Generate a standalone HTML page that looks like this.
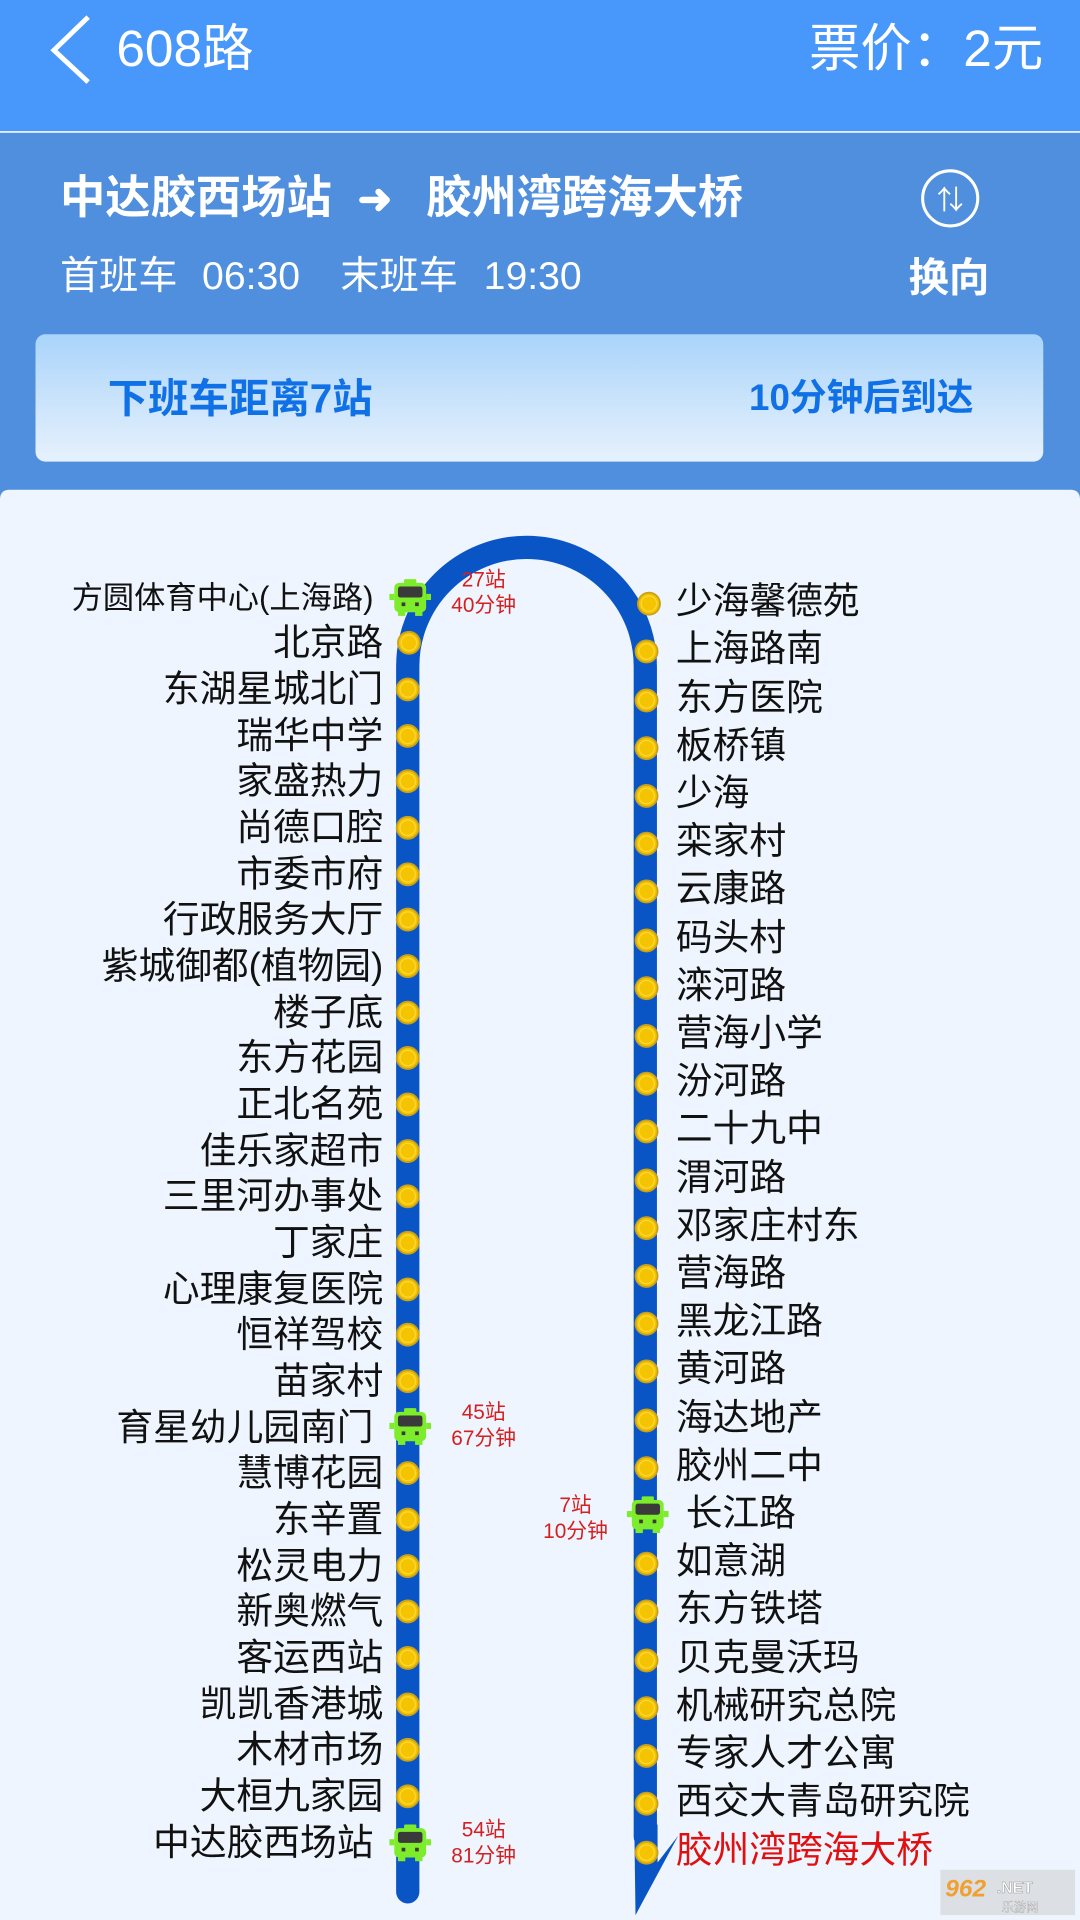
<!DOCTYPE html>
<html><head><meta charset="utf-8">
<style>
html,body{margin:0;padding:0;width:1080px;height:1920px;overflow:hidden;background:#eef5fe}
svg{display:block}
text{font-family:"Liberation Sans","Noto Sans CJK SC",sans-serif}
</style></head><body>
<svg width="1080" height="1920" viewBox="0 0 882 1568" xmlns="http://www.w3.org/2000/svg">
<defs>
<linearGradient id="card" x1="0" y1="0" x2="0" y2="1">
<stop offset="0" stop-color="#a9d4fb"/><stop offset="0.5" stop-color="#c9e3fb"/><stop offset="1" stop-color="#e6f1fd"/>
</linearGradient>
<g id="bus">
<rect x="-13" y="-12" width="26" height="24" rx="4" fill="#7ded2b"/>
<rect x="-5" y="-15" width="10" height="4" rx="1" fill="#7ded2b"/>
<rect x="-17" y="-3" width="4" height="5" fill="#7ded2b"/><rect x="13" y="-3" width="4" height="5" fill="#7ded2b"/>
<rect x="-10" y="11" width="6" height="4" fill="#7ded2b"/><rect x="4" y="11" width="6" height="4" fill="#7ded2b"/>
<rect x="-10" y="-9" width="20" height="9" rx="2" fill="#3a3a3a"/>
<rect x="-7" y="4" width="3" height="3" fill="#3a3a3a"/><rect x="4" y="4" width="3" height="3" fill="#3a3a3a"/>
</g>
<g id="dot"><circle r="9" fill="#f5c400" stroke="#c9a21a" stroke-width="1.5"/><circle r="6.3" fill="none" stroke="#ffd83a" stroke-width="1"/></g>
</defs>
<rect x="0" y="0" width="882" height="1568" fill="#4f8fdd"/>
<rect x="0" y="0" width="882" height="107" fill="#4897fb"/>
<rect x="0" y="107" width="882" height="1.5" fill="#e6f0ff"/>
<path d="M0 408 Q0 400 8 400 L874 400 Q882 400 882 408 L882 1568 L0 1568Z" fill="#eef5fe"/>
<!-- header -->
<polyline points="72,14 44,41 72,67" fill="none" stroke="#fff" stroke-width="4"/>
<text x="95" y="54" font-size="42" fill="#fff">608路</text>
<text x="852" y="54" font-size="42" fill="#fff" text-anchor="end">票价：2元</text>
<text x="49" y="174" font-size="37" font-weight="bold" fill="#fff">中达胶西场站</text>
<text x="292" y="174" font-size="34" font-weight="bold" fill="#fff">➜</text>
<text x="348" y="174" font-size="37" font-weight="bold" fill="#fff">胶州湾跨海大桥</text>
<circle cx="776" cy="162" r="22.5" fill="none" stroke="#fff" stroke-width="2.5"/>
<text x="776" y="171" font-size="22" fill="#fff" text-anchor="middle">⇅</text>
<text x="742" y="238" font-size="33" font-weight="bold" fill="#fff">换向</text>
<g font-size="32" fill="#fff">
<text x="49" y="236">首班车</text><text x="165" y="236">06:30</text>
<text x="278" y="236">末班车</text><text x="395" y="236">19:30</text>
</g>
<rect x="29" y="273" width="823" height="104" rx="8" fill="url(#card)"/>
<text x="88" y="337" font-size="33" font-weight="bold" fill="#1070e6">下班车距离7站</text>
<text x="795" y="335" font-size="30" font-weight="bold" fill="#1070e6" text-anchor="end">10分钟后到达</text>
<!-- route line -->
<path d="M333 1545 L333 544 A97 97 0 0 1 527 544 L527 1500" fill="none" stroke="#0a55c5" stroke-width="19" stroke-linecap="round"/>
<polygon points="518,1490 537,1490 537,1521 554,1499 519,1564" fill="#0a55c5"/>
<!-- left stations -->
<g font-size="30" fill="#111" text-anchor="end">
<text x="305" y="497" font-size="25.5">方圆体育中心(上海路)</text>
<text x="313" y="535">北京路</text>
<text x="313" y="573">东湖星城北门</text>
<text x="313" y="611">瑞华中学</text>
<text x="313" y="648">家盛热力</text>
<text x="313" y="686">尚德口腔</text>
<text x="313" y="724">市委市府</text>
<text x="313" y="761">行政服务大厅</text>
<text x="313" y="799">紫城御都(植物园)</text>
<text x="313" y="837">楼子底</text>
<text x="313" y="874">东方花园</text>
<text x="313" y="912">正北名苑</text>
<text x="313" y="950">佳乐家超市</text>
<text x="313" y="987">三里河办事处</text>
<text x="313" y="1025">丁家庄</text>
<text x="313" y="1063">心理康复医院</text>
<text x="313" y="1100">恒祥驾校</text>
<text x="313" y="1138">苗家村</text>
<text x="305" y="1176">育星幼儿园南门</text>
<text x="313" y="1213">慧博花园</text>
<text x="313" y="1251">东辛置</text>
<text x="313" y="1289">松灵电力</text>
<text x="313" y="1326">新奥燃气</text>
<text x="313" y="1364">客运西站</text>
<text x="313" y="1402">凯凯香港城</text>
<text x="313" y="1439">木材市场</text>
<text x="313" y="1477">大桓九家园</text>
<text x="305" y="1515">中达胶西场站</text>
</g>
<g>
<use href="#dot" x="334" y="525"/><use href="#dot" x="333" y="563"/><use href="#dot" x="333" y="601"/><use href="#dot" x="333" y="638"/><use href="#dot" x="333" y="676"/><use href="#dot" x="333" y="714"/><use href="#dot" x="333" y="751"/><use href="#dot" x="333" y="789"/><use href="#dot" x="333" y="827"/><use href="#dot" x="333" y="864"/><use href="#dot" x="333" y="902"/><use href="#dot" x="333" y="940"/><use href="#dot" x="333" y="977"/><use href="#dot" x="333" y="1015"/><use href="#dot" x="333" y="1053"/><use href="#dot" x="333" y="1090"/><use href="#dot" x="333" y="1128"/><use href="#dot" x="333" y="1203"/><use href="#dot" x="333" y="1241"/><use href="#dot" x="333" y="1279"/><use href="#dot" x="333" y="1316"/><use href="#dot" x="333" y="1354"/><use href="#dot" x="333" y="1392"/><use href="#dot" x="333" y="1429"/><use href="#dot" x="333" y="1467"/>
</g>
<use href="#bus" x="335" y="488"/><use href="#bus" x="335" y="1165"/><use href="#bus" x="335" y="1505"/><use href="#bus" x="529" y="1237"/>
<g font-size="17" fill="#d42020" text-anchor="middle">
<text x="395" y="479">27站</text><text x="395" y="500">40分钟</text>
<text x="395" y="1159">45站</text><text x="395" y="1180">67分钟</text>
<text x="395" y="1500">54站</text><text x="395" y="1521">81分钟</text>
<text x="470" y="1235">7站</text><text x="470" y="1256">10分钟</text>
</g>
<!-- right stations -->
<g font-size="30" fill="#111">
<text x="552" y="501">少海馨德苑</text>
<text x="552" y="540">上海路南</text>
<text x="552" y="580">东方医院</text>
<text x="552" y="619">板桥镇</text>
<text x="552" y="658">少海</text>
<text x="552" y="697">栾家村</text>
<text x="552" y="736">云康路</text>
<text x="552" y="776">码头村</text>
<text x="552" y="815">滦河路</text>
<text x="552" y="854">营海小学</text>
<text x="552" y="893">汾河路</text>
<text x="552" y="932">二十九中</text>
<text x="552" y="972">渭河路</text>
<text x="552" y="1011">邓家庄村东</text>
<text x="552" y="1050">营海路</text>
<text x="552" y="1089">黑龙江路</text>
<text x="552" y="1128">黄河路</text>
<text x="552" y="1168">海达地产</text>
<text x="552" y="1207">胶州二中</text>
<text x="560" y="1246">长江路</text>
<text x="552" y="1285">如意湖</text>
<text x="552" y="1324">东方铁塔</text>
<text x="552" y="1364">贝克曼沃玛</text>
<text x="552" y="1403">机械研究总院</text>
<text x="552" y="1442">专家人才公寓</text>
<text x="552" y="1481">西交大青岛研究院</text>
<text x="552" y="1521" fill="#e01010">胶州湾跨海大桥</text>
</g>
<g>
<use href="#dot" x="530" y="493"/><use href="#dot" x="528" y="532"/><use href="#dot" x="528" y="572"/><use href="#dot" x="528" y="611"/><use href="#dot" x="528" y="650"/><use href="#dot" x="528" y="689"/><use href="#dot" x="528" y="728"/><use href="#dot" x="528" y="768"/><use href="#dot" x="528" y="807"/><use href="#dot" x="528" y="846"/><use href="#dot" x="528" y="885"/><use href="#dot" x="528" y="924"/><use href="#dot" x="528" y="964"/><use href="#dot" x="528" y="1003"/><use href="#dot" x="528" y="1042"/><use href="#dot" x="528" y="1081"/><use href="#dot" x="528" y="1120"/><use href="#dot" x="528" y="1160"/><use href="#dot" x="528" y="1199"/><use href="#dot" x="528" y="1277"/><use href="#dot" x="528" y="1316"/><use href="#dot" x="528" y="1356"/><use href="#dot" x="528" y="1395"/><use href="#dot" x="528" y="1434"/><use href="#dot" x="528" y="1473"/><use href="#dot" x="528" y="1513"/>
</g>
<!-- watermark -->
<rect x="768" y="1527" width="110" height="37" fill="#dcdfe3"/>
<text x="772" y="1549" font-size="20" font-weight="bold" font-style="italic" fill="#f0a030">962</text>
<text x="814" y="1546" font-size="13" font-weight="bold" fill="#fff" stroke="#999" stroke-width="0.4">.NET</text>
<text x="818" y="1561" font-size="10" fill="#fff" stroke="#999" stroke-width="0.3">乐游网</text>
</svg>
</body></html>
